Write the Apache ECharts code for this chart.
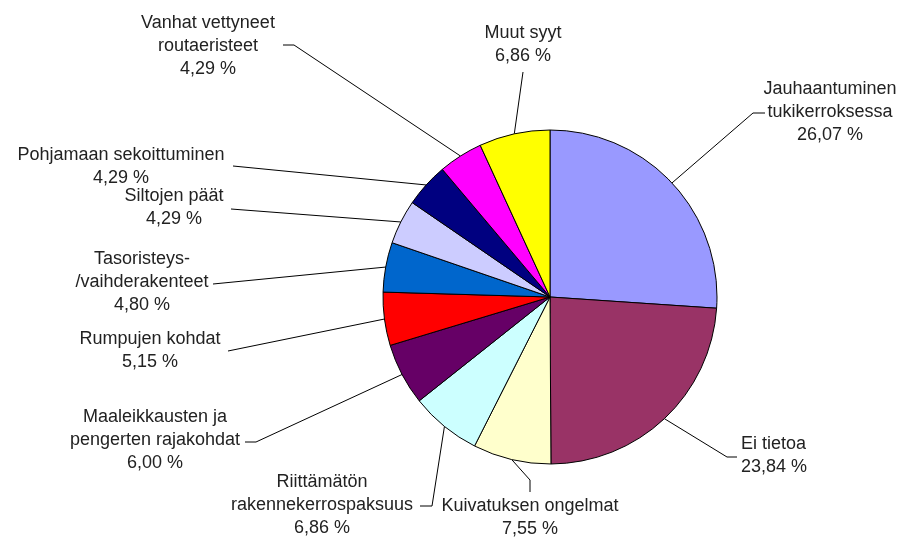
<!DOCTYPE html>
<html><head><meta charset="utf-8">
<script src="https://cdn.jsdelivr.net/npm/echarts@6/dist/echarts.min.js"></script>
<style>html,body{margin:0;padding:0;background:#fff}#c{width:906px;height:538px}</style>
</head><body><div id="c"></div>
<script>
const categories = ["Jauhaantuminen\ntukikerroksessa", "Ei tietoa", "Kuivatuksen ongelmat",
  "Riittämätön\nrakennekerrospaksuus", "Maaleikkausten ja\npengerten rajakohdat", "Rumpujen kohdat",
  "Tasoristeys-\n/vaihderakenteet", "Siltojen päät", "Pohjamaan sekoittuminen",
  "Vanhat vettyneet\nroutaeristeet", "Muut syyt"];
const values = [26.07, 23.84, 7.55, 6.86, 6.00, 5.15, 4.80, 4.29, 4.29, 4.29, 6.86];
const colors = ["#9999FF", "#993366", "#FFFFCC", "#CCFFFF", "#660066", "#FF0000",
  "#0066CC", "#CCCCFF", "#000080", "#FF00FF", "#FFFF00"];
// label placement: [x, y, align, leaderEndX, leaderEndY, bendX, bendY]
const labelPlace = [
  [830, 112.5, 'center', 765, 113, 753, 113],
  [741, 455.5, 'left', 737, 457, 727, 457],
  [530, 517.5, 'center', 530, 492, 530, 480],
  [322, 505, 'center', 420, 506, 432, 506],
  [155, 440, 'center', 245, 442, 256, 442],
  [150, 351, 'center', 228, 351, 228, 351],
  [142, 282, 'center', 213, 284, 213, 284],
  [174, 208, 'center', 231, 209, 231, 209],
  [121, 167, 'center', 233, 166, 233, 166],
  [208, 46.5, 'center', 283, 45, 294, 45],
  [523, 45, 'center', 523, 72, 523, 72]
];
const CX = 550, CY = 297, R = 167;
const total = values.reduce((a, b) => a + b, 0);
function edgePoint(i) {
  let before = 0;
  for (let k = 0; k < i; k++) before += values[k];
  const a = (before + values[i] / 2) / total * 2 * Math.PI;
  return [CX + R * Math.sin(a), CY - R * Math.cos(a)];
}
const chart = echarts.init(document.getElementById('c'), null, {renderer: 'canvas'});
chart.setOption({
  backgroundColor: '#ffffff',
  animation: false,
  series: [{
    type: 'pie',
    center: [CX, CY],
    radius: R,
    startAngle: 90,
    clockwise: true,
    avoidLabelOverlap: false,
    data: categories.map((n, i) => ({name: n, value: values[i], itemStyle: {color: colors[i]}})),
    itemStyle: {borderColor: '#000', borderWidth: 1},
    emphasis: {disabled: true},
    label: {
      show: true,
      formatter: p => p.name + '\n' + p.value.toFixed(2).replace('.', ',') + ' %',
      fontFamily: 'Liberation Sans, Arial, sans-serif',
      fontSize: 18,
      lineHeight: 23,
      color: '#222'
    },
    labelLine: {show: true, length: 10, length2: 10, lineStyle: {color: '#000', width: 1}},
    labelLayout: function (params) {
      const i = params.dataIndex;
      const lp = labelPlace[i];
      const p0 = edgePoint(i);
      return {
        x: lp[0], y: lp[1], align: lp[2], verticalAlign: 'middle',
        labelLinePoints: [p0, [lp[5], lp[6]], [lp[3], lp[4]]]
      };
    }
  }]
});
</script></body></html>
